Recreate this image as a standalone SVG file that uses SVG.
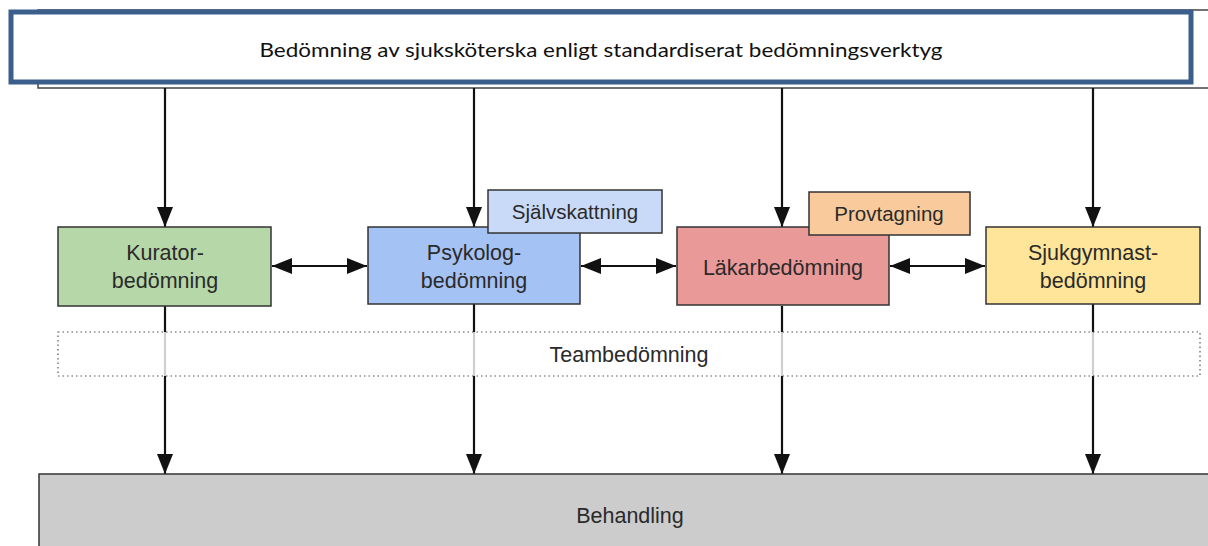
<svg xmlns="http://www.w3.org/2000/svg" width="1208" height="546" viewBox="0 0 1208 546">
<style>
.box{stroke:#333;stroke-width:1.5}
.lbl{font-family:"Liberation Sans",Arial,sans-serif;font-size:21.5px;fill:#2a2a2a;text-anchor:middle}
.sm{font-size:20.5px}
.con{stroke:#111;stroke-width:2.2;fill:none}
</style>
<defs>
<marker id="ah" markerUnits="userSpaceOnUse" markerWidth="20" markerHeight="16" refX="20" refY="8" orient="auto-start-reverse">
<path d="M0,0 L20,8 L0,16 Z" fill="#111"/>
</marker>
</defs>
<rect width="1208" height="546" fill="#fff"/>
<g id="top">
<rect x="38" y="10" width="1190" height="78" fill="#fff" stroke="#444" stroke-width="1.5"/>
<rect x="11" y="12" width="1180" height="70" fill="#fff" stroke="#3b5e8c" stroke-width="5"/>
<text x="601" y="57" style="font-family:Lato,'Open Sans',sans-serif;font-size:20px;fill:#111;text-anchor:middle" textLength="683" lengthAdjust="spacingAndGlyphs">Bedömning av sjuksköterska enligt standardiserat bedömningsverktyg</text>
</g>
<g id="connectors">
<line class="con" x1="165" y1="88" x2="165" y2="227" marker-end="url(#ah)"/>
<line class="con" x1="474" y1="88" x2="474" y2="227" marker-end="url(#ah)"/>
<line class="con" x1="782" y1="88" x2="782" y2="227" marker-end="url(#ah)"/>
<line class="con" x1="1093" y1="88" x2="1093" y2="227" marker-end="url(#ah)"/>
<line class="con" x1="272" y1="266" x2="367" y2="266" marker-start="url(#ah)" marker-end="url(#ah)"/>
<line class="con" x1="581" y1="266" x2="676" y2="266" marker-start="url(#ah)" marker-end="url(#ah)"/>
<line class="con" x1="890" y1="266" x2="985" y2="266" marker-start="url(#ah)" marker-end="url(#ah)"/>
<line class="con" x1="165" y1="306" x2="165" y2="474" marker-end="url(#ah)"/>
<line class="con" x1="474" y1="304" x2="474" y2="474" marker-end="url(#ah)"/>
<line class="con" x1="782" y1="306" x2="782" y2="474" marker-end="url(#ah)"/>
<line class="con" x1="1093" y1="304" x2="1093" y2="474" marker-end="url(#ah)"/>
</g>
<g id="kurator">
<rect class="box" x="58" y="227" width="213" height="79" fill="#b6d7a8"/>
<text class="lbl" x="165" y="260">Kurator-</text>
<text class="lbl" x="165" y="288">bedömning</text>
</g>
<g id="psykolog">
<rect class="box" x="368" y="227" width="212" height="77" fill="#a4c2f4"/>
<text class="lbl" x="474" y="260">Psykolog-</text>
<text class="lbl" x="474" y="288">bedömning</text>
</g>
<g id="sjalvskattning">
<rect class="box" x="488" y="190" width="174" height="43" fill="#c9daf8"/>
<text class="lbl sm" x="575" y="219">Självskattning</text>
</g>
<g id="lakar">
<rect class="box" x="677" y="227" width="212" height="78" fill="#ea9999"/>
<text class="lbl" x="783" y="275">Läkarbedömning</text>
</g>
<g id="provtagning">
<rect class="box" x="809" y="192" width="161" height="43" fill="#f9cb9c"/>
<text class="lbl sm" x="889" y="221">Provtagning</text>
</g>
<g id="sjukgymnast">
<rect class="box" x="986" y="227" width="214" height="77" fill="#ffe599"/>
<text class="lbl" x="1093" y="260">Sjukgymnast-</text>
<text class="lbl" x="1093" y="288">bedömning</text>
</g>
<g id="team">
<rect x="58" y="332" width="1142" height="44" fill="#fff" fill-opacity="0.8" stroke="#555" stroke-width="1.2" stroke-dasharray="1.5 3"/>
<text class="lbl" x="629" y="362">Teambedömning</text>
</g>
<g id="behandling">
<rect class="box" x="39" y="474" width="1190" height="90" fill="#cccccc"/>
<text class="lbl" x="630" y="523">Behandling</text>
</g>
</svg>
